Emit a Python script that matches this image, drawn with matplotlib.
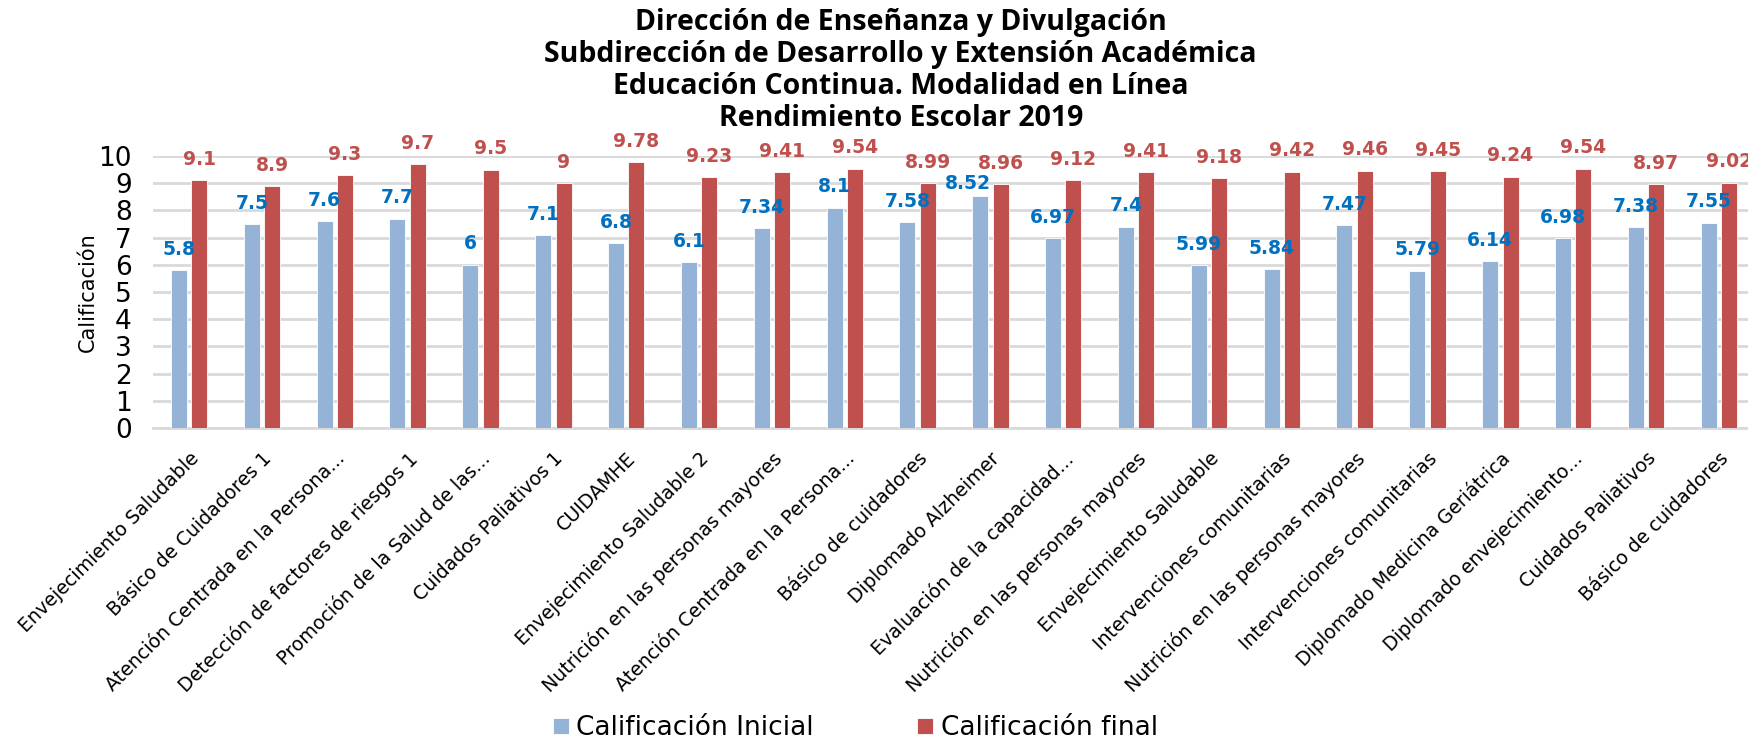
import matplotlib.pyplot as plt
import numpy as np

# Course names and grades
cursos = ['Envejecimiento Saludable', 'Básico de Cuidadores 1', 'Atención Centrada en la Persona...',
          'Detección de factores de riesgos 1', 'Promoción de la Salud de las...', 'Cuidados Paliativos 1',
          'CUIDAMHE', 'Envejecimiento Saludable 2', 'Nutrición en las personas mayores',
          'Atención Centrada en la Persona...', 'Básico de cuidadores', 'Diplomado Alzheimer',
          'Evaluación de la capacidad...', 'Nutrición en las personas mayores', 'Envejecimiento Saludable',
          'Intervenciones comunitarias', 'Nutrición en las personas mayores', 'Intervenciones comunitarias',
          'Diplomado Medicina Geriátrica', 'Diplomado envejecimiento...', 'Cuidados Paliativos',
          'Básico de cuidadores']
inicial = [5.8, 7.5, 7.6, 7.7, 6, 7.1, 6.8, 6.1, 7.34, 8.1, 7.58, 8.52, 6.97, 7.4, 5.99, 5.84,
           7.47, 5.79, 6.14, 6.98, 7.38, 7.55]
final = [9.1, 8.9, 9.3, 9.7, 9.5, 9, 9.78, 9.23, 9.41, 9.54, 8.99, 8.96, 9.12, 9.41, 9.18, 9.42,
         9.46, 9.45, 9.24, 9.54, 8.97, 9.02]

plt.rcParams['font.family'] = ['DejaVu Sans']

fig = plt.figure(figsize=(17.49, 7.38), dpi=100)
ax = fig.add_axes([0.0873, 0.42, 0.9163, 0.3686])

x = np.arange(len(cursos))
w = 0.22
b1 = ax.bar(x - 0.14, inicial, w, color='#95B3D7', edgecolor='white', linewidth=0.6,
            label='Calificación Inicial', zorder=3)
b2 = ax.bar(x + 0.14, final, w, color='#C0504D', edgecolor='white', linewidth=0.6,
            label='Calificación final', zorder=3)

# value labels (the 8.52 label sits a bit lower/left so it doesn't hit 8.96)
for i, (xi, v) in enumerate(zip(x, inicial)):
    off = (-9, 9) if i == 11 else (0, 15)
    ax.annotate(f'{v:g}', (xi - 0.14, v), xytext=off, textcoords='offset points',
                ha='center', va='center', fontsize=13.5, fontweight='bold', color='#0070C0')
for xi, v in zip(x, final):
    ax.annotate(f'{v:g}', (xi + 0.14, v), xytext=(0, 15), textcoords='offset points',
                ha='center', va='center', fontsize=13.5, fontweight='bold', color='#C0504D')

ax.set_xlim(-0.5, len(cursos) - 0.5)
ax.set_ylim(0, 10)
ax.set_yticks(range(11))
ax.yaxis.grid(True, color='#D9D9D9', linewidth=2, zorder=0)
for s in ['top', 'right', 'left']:
    ax.spines[s].set_visible(False)
ax.spines['bottom'].set_color('#D9D9D9')
ax.spines['bottom'].set_linewidth(2)
ax.tick_params(axis='both', length=0)
ax.tick_params(axis='y', labelsize=19, pad=15)
ax.set_xticks(x)
ax.set_xticklabels(cursos, rotation=45, ha='right', rotation_mode='anchor', fontsize=13.7)
ax.tick_params(axis='x', pad=15)
ax.set_ylabel('Calificación', fontsize=15)
ax.yaxis.set_label_coords(-0.034, 0.5)

fig.text(0.515, 0.989, 'Dirección de Enseñanza y Divulgación\n'
         'Subdirección de Desarrollo y Extensión Académica\n'
         'Educación Continua. Modalidad en Línea\n'
         'Rendimiento Escolar 2019',
         ha='center', va='top', fontsize=20.5, fontweight='bold', family='Open Sans',
         linespacing=1.13)

fig.legend(handles=[b1, b2], loc='center', bbox_to_anchor=(0.489, 0.013), ncol=2,
           frameon=False, fontsize=19, handlelength=0.6, handleheight=0.6,
           handletextpad=0.3, columnspacing=3.9)

plt.savefig('out.png', dpi=100)
